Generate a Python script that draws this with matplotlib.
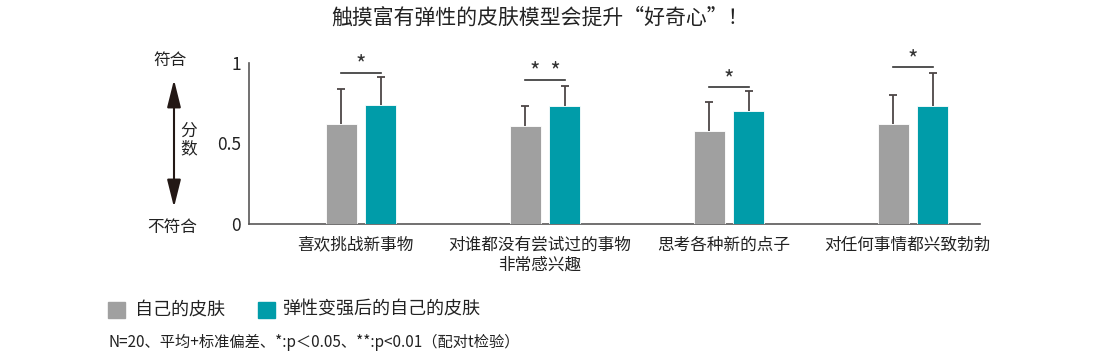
import matplotlib
matplotlib.use('Agg')
import matplotlib.pyplot as plt
import numpy as np
from matplotlib.patches import Rectangle, FancyArrowPatch

plt.rcParams['font.family'] = ['Noto Sans CJK SC', 'DejaVu Sans']

# data
categories = ["喜欢挑战新事物", "对谁都没有尝试过的事物\n非常感兴趣",
              "思考各种新的点子", "对任何事情都兴致勃勃"]
own = [0.62, 0.61, 0.58, 0.62]
own_sd = [0.22, 0.125, 0.18, 0.18]
firm = [0.74, 0.73, 0.70, 0.735]
firm_sd = [0.17, 0.125, 0.125, 0.20]
sig = ["*", "*  *", "*", "*"]
bracket_y = [0.94, 0.895, 0.85, 0.975]

GRAY = "#a0a0a0"
TEAL = "#009ca9"
AXC = "#595757"
ERRC = "#4d4646"
W, H = 1100, 360


def fx(px):
    return px / W


def fy(py):
    return 1 - py / H


fig = plt.figure(figsize=(11, 3.6), dpi=100)
ax = fig.add_axes([fx(249), fy(224), fx(980) - fx(249), (224 - 63) / H])

x = np.arange(len(categories))
bw = 0.168
off = 0.107
cap = 0.022
ax.bar(x - off, own, bw, color=GRAY, edgecolor="white", linewidth=0.6, zorder=3)
ax.bar(x + off, firm, bw, color=TEAL, edgecolor="white", linewidth=0.6, zorder=3)

# upper-only error bars
for xs, vals, sds in [(x - off, own, own_sd), (x + off, firm, firm_sd)]:
    tops = np.array(vals) + np.array(sds)
    ax.vlines(xs, vals, tops, color=ERRC, lw=1.3, zorder=2)
    ax.hlines(tops, xs - cap, xs + cap, color=ERRC, lw=1.3, zorder=2)

for i in range(len(categories)):
    ax.plot([x[i] - off, x[i] + off], [bracket_y[i], bracket_y[i]],
            color="#333333", lw=1.2, clip_on=False)
    ax.text(x[i], bracket_y[i] - 0.025, sig[i], ha="center", va="bottom",
            fontsize=16, color="#333333", clip_on=False)

ax.set_xlim(-0.609, 3.364)
ax.set_ylim(0, 1)
ax.set_yticks([0, 0.5, 1], ["0", "0.5", "1"])
ax.set_xticks(x - 0.03, categories)
ax.tick_params(axis="y", length=0, pad=6, labelsize=12.5, labelcolor="#222222")
ax.tick_params(axis="x", length=0, pad=9, labelsize=12, labelcolor="#222222")
for lab in ax.get_xticklabels():
    lab.set_linespacing(1.25)
for s in ["top", "right"]:
    ax.spines[s].set_visible(False)
for s in ["left", "bottom"]:
    ax.spines[s].set_color(AXC)
    ax.spines[s].set_linewidth(1.2)

# title
fig.text(fx(540), fy(18), "触摸富有弹性的皮肤模型会提升“好奇心”！",
         ha="center", va="center", fontsize=15, color="#222222")

# left scale annotation
fig.text(fx(170), fy(60), "符合", ha="center", va="center", fontsize=12, color="#222222")
fig.text(fx(172), fy(227), "不符合", ha="center", va="center", fontsize=12, color="#222222")
fig.text(fx(189), fy(140), "分\n数", ha="center", va="center", fontsize=12,
         color="#222222", linespacing=1.1)
fig.add_artist(FancyArrowPatch(
    (fx(174), fy(210)), (fx(174), fy(77)), transform=fig.transFigure,
    arrowstyle="<|-|>,head_length=1.4,head_width=0.35", color="#231815",
    lw=1.5, mutation_scale=12))

# legend
fig.add_artist(Rectangle((fx(108), fy(318)), 17 / W, 16 / H,
                         transform=fig.transFigure, color=GRAY))
fig.text(fx(135), fy(310), "自己的皮肤", ha="left", va="center", fontsize=13, color="#222222")
fig.add_artist(Rectangle((fx(258), fy(318)), 17 / W, 16 / H,
                         transform=fig.transFigure, color=TEAL))
fig.text(fx(283), fy(310), "弹性变强后的自己的皮肤", ha="left", va="center",
         fontsize=13, color="#222222")

fig.text(fx(108), fy(342), "N=20、平均+标准偏差、*:p＜0.05、**:p<0.01（配对t检验）",
         ha="left", va="center", fontsize=11, color="#222222")

fig.savefig("out.png", dpi=100, facecolor="white")
